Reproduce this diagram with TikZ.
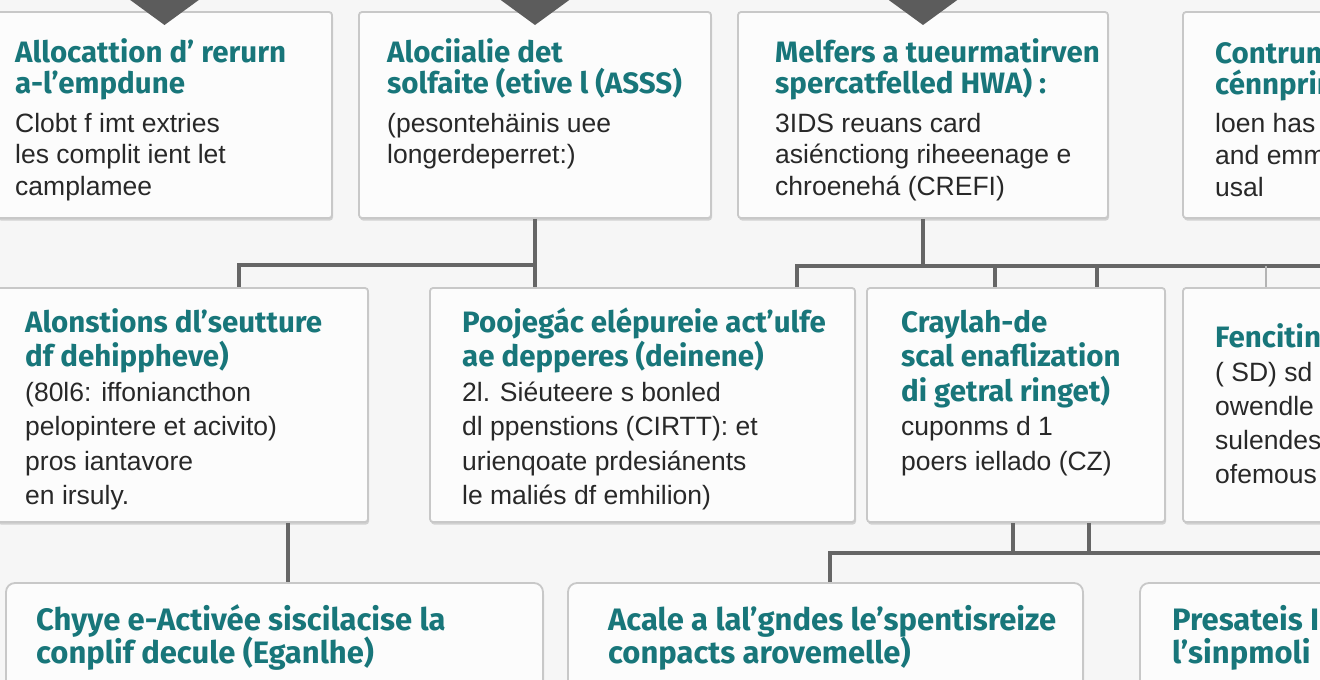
\documentclass[tikz,border=0pt]{standalone}
\usepackage{fontspec}
\usetikzlibrary{fit,shadows}
\newfontfamily\ttlfam{Fira Sans}
\newfontfamily\bdyfam{Liberation Sans}
\definecolor{ttl}{RGB}{24,118,122}
\definecolor{bdy}{RGB}{40,40,40}
\definecolor{bgc}{RGB}{246,246,246}
\definecolor{boxf}{RGB}{252,252,252}
\definecolor{boxd}{RGB}{200,200,200}
\definecolor{lnc}{RGB}{102,102,102}
\definecolor{lnl}{RGB}{180,180,180}
\definecolor{tric}{RGB}{92,92,92}
\def\tsz{29.5}
\newcommand\TL[1]{\hbox{\ttlfam\bfseries\fontsize{\tsz}{32}\selectfont\color{ttl}#1}}
\newcommand\BL[1]{\hbox{\bdyfam\fontsize{26.5}{32}\selectfont\color{bdy}#1}}
\newcommand\TB[2]{\vtop{\baselineskip=#1pt\relax\lineskiplimit=-100pt\relax #2}}
\begin{document}
\begin{tikzpicture}[x=1pt,y=-1pt,
  boxst/.style={draw=boxd, line width=1.8pt, fill=boxf, rounded corners=3pt, inner sep=0pt,
    drop shadow={shadow xshift=1pt, shadow yshift=-2.5pt, opacity=0.25, fill=black!60}},
  boxr/.style={boxst, rounded corners=9pt},
  txt/.style={anchor=base west, inner sep=0pt},
  conn/.style={draw=lnc, line width=3.4pt},
  connl/.style={draw=lnl, line width=2pt},
  tri/.style={fill=tric}]
\fill[bgc] (0,0) rectangle (1320,680);
\useasboundingbox (0,0) rectangle (1320,680);
\clip (0,0) rectangle (1320,680);

% row 1
\node[boxst, fit={(-3,12) (332,218)}] (A) {};
\node[boxst, fit={(359,12) (711,218)}] (B) {};
\node[boxst, fit={(738,12) (1108,218)}] (C) {};
\node[boxst, fit={(1183,12) (1345,218)}] (D) {};
% row 2
\node[boxst, fit={(-3,288) (368,522)}] (E) {};
\node[boxst, fit={(430,288) (855,522)}] (F) {};
\node[boxst, fit={(867,288) (1165,522)}] (G) {};
\node[boxst, fit={(1183,288) (1345,522)}] (H) {};
% row 3
\node[boxr, fit={(6,583) (543,710)}] (I) {};
\node[boxr, fit={(568,583) (1083,710)}] (J) {};
\node[boxr, fit={(1140,583) (1345,710)}] (K) {};

% connectors
\draw[conn] (B.south) -- (B.south |- F.north);
\draw[conn] (B.south |- 0,265) -| (239,0 |- E.north);
\draw[conn] (C.south) -- (C.south |- 0,266);
\draw[conn] (797,0 |- F.north) -- (797,266) -- (1330,266);
\draw[conn] (995,266) -- (995,0 |- G.north);
\draw[conn] (1097,266) -- (1097,0 |- G.north);
\draw[connl] (1266,266) -- (1266,0 |- H.north);
\draw[conn] (288,0 |- E.south) -- (288,0 |- I.north);
\draw[conn] (1013,0 |- G.south) -- (1013,553);
\draw[conn] (1089,0 |- G.south) -- (1089,553);
\draw[conn] (830,0 |- J.north) -- (830,553) -- (1330,553);

% top triangles
\fill[tri] (A.north |- 0,-2) ++(-37,0) -- ++(74,0) -- (A.north |- 0,25) -- cycle;
\fill[tri] (B.north |- 0,-2) ++(-37,0) -- ++(74,0) -- (B.north |- 0,25) -- cycle;
\fill[tri] (C.north |- 0,-2) ++(-37,0) -- ++(74,0) -- (C.north |- 0,25) -- cycle;

% texts row 1
\node[txt] (tA) at (15,62) {\TB{31.5}{\TL{Allocattion d’ rerurn}\TL{a-l’empdune}\vskip7pt
  \BL{Clobt f imt extries}\BL{les complit ient let}\BL{camplamee}}};
\node[txt] (tB) at (387,62) {\TB{31.5}{\TL{Alociialie det}\TL{solfaite (etive l (ASSS)}\vskip7pt
  \BL{(pesontehäinis uee}\BL{longerdeperret:)}}};
\node[txt] (tC) at (775,62) {\TB{31.5}{\TL{Melfers a tueurmatirven}\TL{spercatfelled HWA) :}\vskip7pt
  \BL{3IDS reuans card}\BL{asiénctiong riheeenage e}\BL{chroenehá (CREFI)}}};
\node[txt] (tD) at (1215,63) {\TB{31.5}{\TL{Contrum}\TL{cénnprin}\vskip7pt
  \BL{loen has}\BL{and emm}\BL{usal}}};

% texts row 2
\node[txt] (tE) at (25,332) {\TB{34.5}{\TL{Alonstions dl’seutture}\TL{df dehippheve)}
  \BL{(80l6: iffoniancthon}\BL{pelopintere et acivito)}\BL{pros iantavore}\BL{en irsuly.}}};
\node[txt] (tF) at (462,332) {\TB{34.5}{\TL{Poojegác elépureie act’ulfe}\TL{ae depperes (deinene)}
  \BL{2l. Siéuteere s bonled}\BL{dl ppenstions (CIRTT): et}\BL{urienqoate prdesiánents}\BL{le maliés df emhilion)}}};
\node[txt] (tG) at (901,332) {\TB{34.5}{\TL{Craylah-de}\TL{scal enaflization}\TL{di getral ringet)}
  \BL{cuponms d 1}\BL{poers iellado (CZ)}}};
\node[txt] (tH) at (1215,347) {\TB{34}{\TL{Fencitin}
  \BL{( SD) sd c}\BL{owendle}\BL{sulendes}\BL{ofemous}}};

% texts row 3
\def\tsz{31}
\node[txt] (tI) at (36,630) {\TB{33.5}{\TL{Chyye e-Activée siscilacise la}\TL{conplif decule (Eganlhe)}}};
\node[txt] (tJ) at (608,630) {\TB{33.5}{\TL{Acale a lal’gndes le’spentisreize}\TL{conpacts arovemelle)}}};
\node[txt] (tK) at (1172,630) {\TB{33.5}{\TL{Presateis I}\TL{l’sinpmoli}}};
\end{tikzpicture}
\end{document}
